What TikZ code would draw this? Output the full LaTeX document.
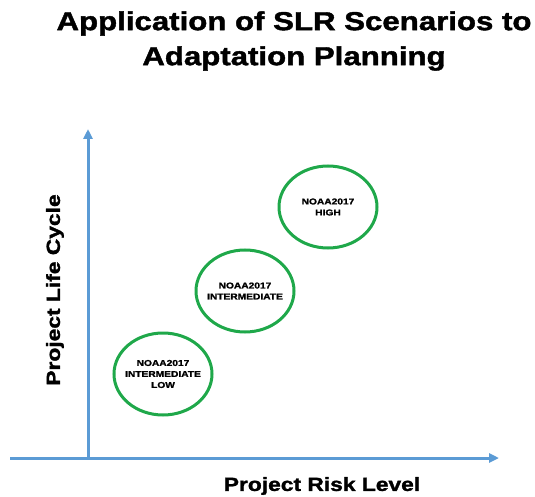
\documentclass[tikz,border=0pt]{standalone}
\usepackage{fontspec}
\setmainfont{Liberation Sans}
\newfontfamily\heavyfont{Liberation Sans Bold}[FakeStretch=1.2,FakeBold=1.6]
\usepackage{tikz}
\usetikzlibrary{arrows.meta,shapes.geometric}

\definecolor{axisblue}{HTML}{5B9BD5}
\definecolor{ringgreen}{HTML}{1FA84A}

\tikzset{
  axis/.style={draw=axisblue, line width=3pt, -{Triangle[length=10pt,width=9pt]}},
  scenario/.style={ellipse, draw=ringgreen, line width=3pt, minimum width=98pt,
    minimum height=82pt, align=center, inner xsep=-12pt, inner ysep=0pt,
    font=\heavyfont\fontsize{8.5}{11}\selectfont},
  axislabel/.style={inner sep=0pt, font=\heavyfont\fontsize{19}{21}\selectfont}
}

\begin{document}
\begin{tikzpicture}[x=1pt,y=-1pt]
  \useasboundingbox (0,0) rectangle (535,497);
  % title
  \node (title) at (294,41) [align=center, font=\heavyfont\fontsize{26}{35}\selectfont]
        {Application of SLR Scenarios to\\Adaptation Planning};
  % axes
  \coordinate (xstart) at (10,458);
  \coordinate (xend)   at (499,458);
  \coordinate (origin) at (88,458);
  \coordinate (yend)   at (88,129);
  \draw[axis] (xstart) -- (xend);
  \draw[axis] (origin) -- (yend);
  \node[axislabel] (xlabel) at (322,486) {Project Risk Level};
  \node[axislabel, rotate=90] (ylabel) at (55,290) {Project Life Cycle};
  % scenarios
  \node[scenario] (low)  at (163,374) {NOAA2017\\INTERMEDIATE\\LOW};
  \node[scenario] (mid)  at (245,291) {NOAA2017\\INTERMEDIATE};
  \node[scenario] (high) at (328,207) {NOAA2017\\HIGH};
\end{tikzpicture}
\end{document}
